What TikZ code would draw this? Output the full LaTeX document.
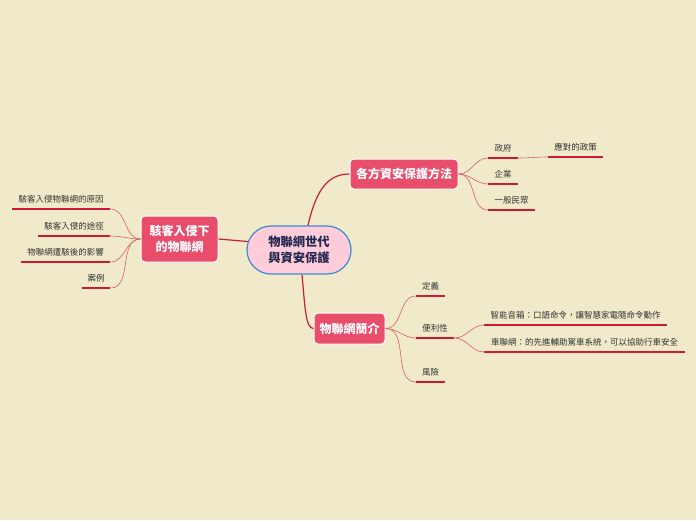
\documentclass[tikz,border=0pt]{standalone}
\usepackage{fontspec}
\setmainfont{Noto Sans CJK TC}
\usetikzlibrary{calc}
\definecolor{bg}{RGB}{240,234,202}
\definecolor{boxred}{RGB}{232,78,108}
\definecolor{mainline}{RGB}{200,30,55}
\definecolor{subline}{RGB}{214,96,108}
\definecolor{ulcol}{RGB}{205,25,55}
\definecolor{pinkfill}{RGB}{255,205,217}
\definecolor{pillborder}{RGB}{60,140,210}
\definecolor{navy}{RGB}{35,40,80}
\definecolor{leaftext}{RGB}{50,50,50}
\tikzset{
  center/.style={draw=pillborder, line width=1.2pt, fill=pinkfill, rounded corners=24pt,
    minimum width=104pt, minimum height=48pt, align=center, text=navy,
    font=\fontsize{12.3}{16.5}\selectfont\bfseries, inner sep=2pt},
  topic/.style={draw=white, line width=1pt, fill=boxred, rounded corners=4pt,
    align=center, text=white, font=\fontsize{12}{16}\selectfont\bfseries, inner sep=2pt},
  leaf/.style={anchor=south west, inner xsep=0pt, inner ysep=4.4pt, text height=6.5pt,
    text depth=2pt, text=leaftext, font=\fontsize{8.5}{10}\selectfont,
    append after command={(\tikzlastnode.south west) edge[uline] (\tikzlastnode.south east)}},
  uline/.style={draw=ulcol, line width=1.6pt},
  mainconn/.style={draw=mainline, line width=1.2pt},
  subconn/.style={draw=subline, line width=0.6pt},
}
\begin{document}
\begin{tikzpicture}[x=1pt,y=-1pt]
\fill[bg] (0,0) rectangle (696,520);
\useasboundingbox (0,0) rectangle (696,520);

\node[center] (c) at (299,250) {物聯網世代\\與資安保護};
\node[topic, minimum width=108pt, minimum height=30pt] (g) at (404,174) {各方資安保護方法};
\node[topic, minimum width=77pt, minimum height=46pt] (h) at (179.5,239) {駭客入侵下\\的物聯網};
\node[topic, minimum width=71pt, minimum height=31pt] (i) at (349.5,328.5) {物聯網簡介};

% main connectors
\draw[mainconn] ([xshift=9pt]c.north) .. controls +(8,-35) and +(-22,0) .. (g.west);
\draw[mainconn] (h.east) -- ([xshift=1.5pt,yshift=8.5pt]c.west);
\draw[mainconn] ([xshift=3pt]c.south) .. controls +(3,32) and +(-8,0) .. (i.west);

% right-top branch
\node[leaf, minimum width=30pt] (gov) at (488,158) {政府};
\node[leaf, minimum width=55pt] (pol) at (548,157) {應對的政策};
\node[leaf, minimum width=30pt] (ent) at (488,184) {企業};
\node[leaf, minimum width=47pt] (pub) at (488,210) {一般民眾};
\draw[subconn] (g.east) to[out=0,in=180] (gov.south west);
\draw[subconn] (g.east) to[out=0,in=180] (ent.south west);
\draw[subconn] (g.east) to[out=0,in=180] (pub.south west);
\draw[subconn] (gov.south east) to[out=0,in=180] (pol.south west);

% left branch
\node[leaf, minimum width=98pt] (h1) at (12,209) {駭客入侵物聯網的原因};
\node[leaf, minimum width=72pt] (h2) at (38,236) {駭客入侵的途徑};
\node[leaf, minimum width=89pt] (h3) at (21,262) {物聯網遭駭後的影響};
\node[leaf, minimum width=28pt] (h4) at (82,288) {案例};
\foreach \n in {h1,h2,h3,h4}
  \draw[subconn] (h.west) to[out=180,in=0] (\n.south east);

% bottom branch
\node[leaf, minimum width=29pt] (def) at (416,296) {定義};
\node[leaf, minimum width=38pt] (conv) at (416,338) {便利性};
\node[leaf, minimum width=29pt] (risk) at (416,382) {風險};
\node[leaf, minimum width=183pt] (spk) at (484,325) {智能音箱：口語命令，讓智慧家電隨命令動作};
\node[leaf, minimum width=201pt] (car) at (484,352) {車聯網：的先進輔助駕車系統，可以協助行車安全};
\foreach \n in {def,conv,risk}
  \draw[subconn] (i.east) to[out=0,in=180] (\n.south west);
\draw[subconn] (conv.south east) to[out=0,in=180] (spk.south west);
\draw[subconn] (conv.south east) to[out=0,in=180] (car.south west);
\end{tikzpicture}
\end{document}
